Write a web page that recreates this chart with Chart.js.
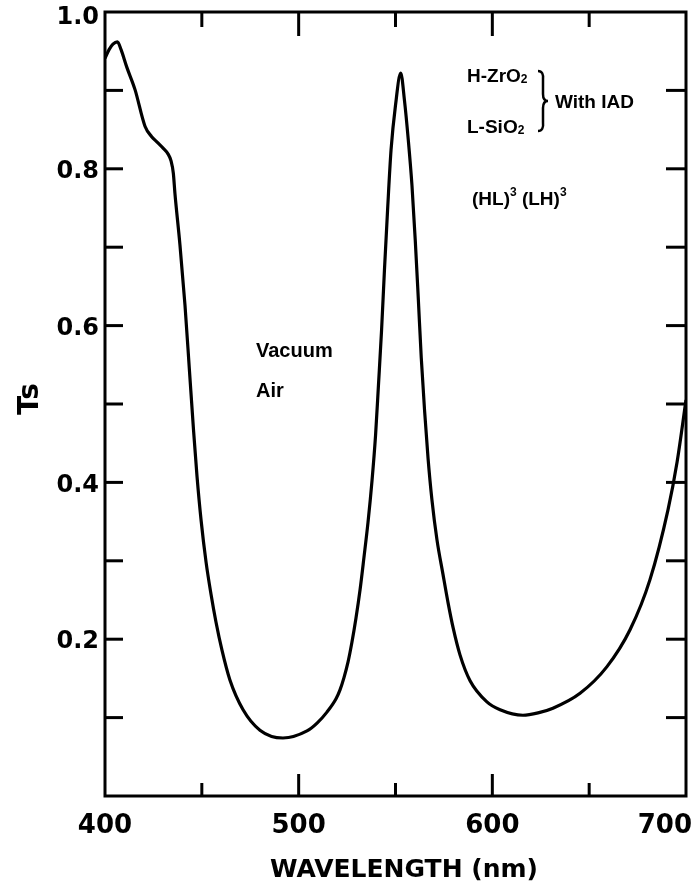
<!DOCTYPE html>
<html>
<head>
<meta charset="utf-8">
<script src="https://cdn.jsdelivr.net/npm/chart.js@4/dist/chart.umd.min.js"></script>
<style>
  html, body { margin: 0; padding: 0; background: #fff; }
  .chart-wrap { position: relative; width: 697px; height: 896px; }
</style>
</head>
<body>
<div class="chart-wrap"><canvas id="tsChart"></canvas></div>
<script>
// wavelength (nm) and transmittance Ts
const wavelengthNm = [
  400, 402.1, 404.1, 406.4, 408.3, 411.2, 415.5, 420.7, 424.1, 426.9,
  430.1, 432.5, 434.1, 435.3, 436.1, 438.7, 441.3, 443.6, 445.7, 447.5,
  449.6, 452.2, 454.7, 457.3, 460.4, 464.5, 471.3, 480, 491.9, 504.3,
  509.5, 514.6, 519.3, 521.3, 523.4, 525.5, 527.5, 529.6, 531.7, 533.7,
  535.8, 537.9, 539.7, 541.2, 542.8, 544.3, 545.9, 547.7, 550, 552.7,
  554.6, 556.6, 558.5, 560.2, 561.8, 563.3, 565, 566.8, 568.8, 571.4,
  574.5, 577.1, 579.8, 583.3, 588.5, 597.2, 604, 615.8, 623.6, 631.3,
  645.3, 659.2, 671.1, 681.4, 690.7, 695.4, 700
];
const transmittance = [
  0.941, 0.952, 0.959, 0.962, 0.952, 0.930, 0.901, 0.854, 0.841, 0.834,
  0.826, 0.819, 0.810, 0.794, 0.769, 0.703, 0.626, 0.543, 0.467, 0.408,
  0.352, 0.298, 0.258, 0.222, 0.186, 0.148, 0.110, 0.084, 0.074, 0.083,
  0.093, 0.107, 0.124, 0.135, 0.151, 0.171, 0.196, 0.227, 0.263, 0.304,
  0.349, 0.403, 0.460, 0.524, 0.594, 0.671, 0.747, 0.824, 0.881, 0.922,
  0.888, 0.837, 0.779, 0.709, 0.633, 0.559, 0.492, 0.431, 0.378, 0.327,
  0.283, 0.247, 0.214, 0.180, 0.147, 0.120, 0.110, 0.103, 0.106, 0.112,
  0.131, 0.165, 0.212, 0.276, 0.365, 0.426, 0.505
];

const xTicks  = [450, 500, 550, 600, 650];
const xLabels = [400, 500, 600, 700];
const yTicks  = [0.1, 0.2, 0.3, 0.4, 0.5, 0.6, 0.7, 0.8, 0.9];
const yLabels = [0.2, 0.4, 0.6, 0.8, 1.0];

const NUM_FONT   = 'bold 24px "DejaVu Sans"';
const XNUM_FONT  = 'bold 26px "DejaVu Sans"';
const NOTE_FONT  = 'bold 20px "Liberation Sans", Arial, sans-serif';
const SMALL_FONT = 'bold 19px "Liberation Sans", Arial, sans-serif';

function line(ctx, x1, y1, x2, y2) {
  ctx.beginPath();
  ctx.moveTo(x1, y1);
  ctx.lineTo(x2, y2);
  ctx.stroke();
}

// text with sub/superscript pieces
function richText(ctx, parts, x, y) {
  parts.forEach(p => {
    ctx.font = p.small ? 'bold 12px "Liberation Sans", Arial, sans-serif' : SMALL_FONT;
    ctx.fillText(p.t, x, y + (p.dy || 0));
    x += ctx.measureText(p.t).width;
  });
  return x;
}

const framePlugin = {
  id: 'frame',
  afterDatasetsDraw(chart) {
    const { ctx, chartArea: a, scales: { x, y } } = chart;
    ctx.save();
    ctx.strokeStyle = '#000';
    ctx.fillStyle = '#000';
    ctx.lineWidth = 3;
    ctx.strokeRect(a.left, a.top, a.right - a.left, a.bottom - a.top);

    // inward ticks
    xTicks.forEach(v => {
      const px = x.getPixelForValue(v);
      const major = v % 100 === 0;
      line(ctx, px, a.bottom, px, a.bottom - (major ? 22 : 13));
      line(ctx, px, a.top, px, a.top + (major ? 24 : 15));
    });
    yTicks.forEach(v => {
      const py = y.getPixelForValue(v);
      line(ctx, a.left, py, a.left + 18, py);
      line(ctx, a.right, py, a.right - 20, py);
    });

    // tick labels
    ctx.font = NUM_FONT;
    ctx.textAlign = 'right';
    ctx.textBaseline = 'middle';
    yLabels.forEach(v => {
      const py = Math.max(y.getPixelForValue(v) + 3, 18);
      ctx.fillText(v.toFixed(1), a.left - 6, py);
    });
    ctx.font = XNUM_FONT;
    ctx.textAlign = 'center';
    xLabels.forEach(v => {
      const txt = String(v);
      const w = ctx.measureText(txt).width;
      const px = Math.min(x.getPixelForValue(v), chart.width - 5 - w / 2);
      ctx.fillText(txt, px, 826);
    });

    // axis titles
    ctx.font = 'bold 25px "DejaVu Sans"';
    ctx.fillText('WAVELENGTH (nm)', 404, 870);
    ctx.save();
    ctx.translate(31, 399);
    ctx.rotate(-Math.PI / 2);
    ctx.font = 'bold 28px "DejaVu Sans"';
    ctx.fillText('Ts', 0, 0);
    ctx.restore();

    // notes
    ctx.textAlign = 'left';
    ctx.textBaseline = 'alphabetic';
    ctx.font = NOTE_FONT;
    ctx.fillText('Vacuum', 256, 357);
    ctx.fillText('Air', 256, 397);

    richText(ctx, [{ t: 'H-ZrO' }, { t: '2', small: true, dy: 1 }], 467, 82);
    richText(ctx, [{ t: 'L-SiO' }, { t: '2', small: true, dy: 1 }], 467, 133);
    ctx.font = SMALL_FONT;
    ctx.fillText('With IAD', 555, 108);
    richText(ctx, [{ t: '(HL)' }, { t: '3', small: true, dy: -9 }, { t: ' (LH)' }, { t: '3', small: true, dy: -9 }], 472, 205);

    // brace
    ctx.lineWidth = 2.5;
    ctx.beginPath();
    ctx.moveTo(538, 71);
    ctx.quadraticCurveTo(544, 71, 543, 80);
    ctx.lineTo(543, 94);
    ctx.quadraticCurveTo(543, 101, 548, 101);
    ctx.quadraticCurveTo(543, 101, 543, 108);
    ctx.lineTo(543, 122);
    ctx.quadraticCurveTo(544, 131, 538, 131);
    ctx.stroke();
    ctx.restore();
  }
};

new Chart(document.getElementById('tsChart').getContext('2d'), {
  type: 'line',
  data: {
    datasets: [{
      data: wavelengthNm.map((nm, i) => ({ x: nm, y: transmittance[i] })),
      borderColor: '#000',
      borderWidth: 3.2,
      pointRadius: 0,
      fill: false,
      cubicInterpolationMode: 'monotone',
    }],
  },
  options: {
    responsive: true,
    maintainAspectRatio: false,
    animation: false,
    layout: { padding: { left: 105, right: 11, top: 12, bottom: 100 } },
    plugins: { legend: { display: false }, tooltip: { enabled: false } },
    scales: {
      x: { type: 'linear', min: 400, max: 700, display: false },
      y: { min: 0, max: 1, display: false },
    },
  },
  plugins: [framePlugin],
});
</script>
</body>
</html>
